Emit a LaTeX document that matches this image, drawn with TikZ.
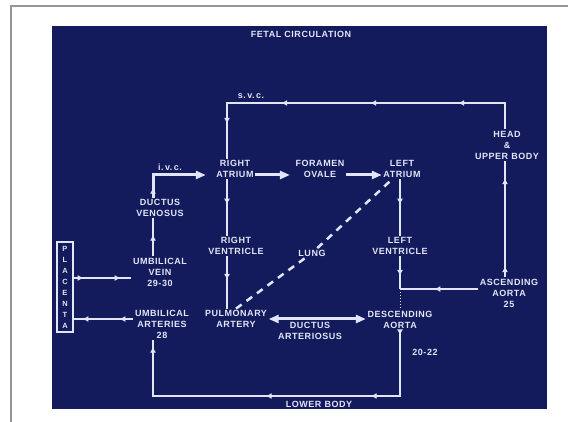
\documentclass[tikz,border=0pt]{standalone}
\usepackage{fontspec}
\newfontfamily\slidefont[LetterSpace=6]{Liberation Sans}
\usetikzlibrary{arrows.meta,decorations.markings}
\definecolor{slideblue}{RGB}{19,27,92}
\definecolor{chalk}{RGB}{226,229,246}
\definecolor{framegray}{RGB}{150,150,150}

\begin{document}
\begin{tikzpicture}[x=1pt, y=-1pt,
  lbl/.style={font=\slidefont\bfseries\fontsize{9}{11}\selectfont, text=chalk, align=center, inner sep=1.5pt},
  wire/.style={draw=chalk, line width=1.8pt},
  bigwire/.style={draw=chalk, line width=3pt, -{Triangle[length=10pt,width=8pt]}},
  flow/.style={postaction={decorate, decoration={markings, mark=at position #1 with {\arrow{Latex[length=6pt,width=6pt]}}}}}
]
\useasboundingbox (0,0) rectangle (568,422);

% Slide frame
\draw[framegray, line width=1.5pt] (568,6) -- (11,6) -- (11,422);
\fill[slideblue] (52,26) rectangle (547,409);

\node[lbl] (title) at (301,34) {FETAL CIRCULATION};

% Heart and vessels
\node[lbl] (svc) at (251,96) {s.\,v.\,c.};
\node[lbl] (ivc) at (170,167) {i.\,v.\,c.};
\node[lbl] (ra) at (235,169) {RIGHT\\ATRIUM};
\node[lbl] (fo) at (320,169) {FORAMEN\\OVALE};
\node[lbl] (la) at (402,169) {LEFT\\ATRIUM};
\node[lbl] (head) at (507,145) {HEAD\\\&\\UPPER BODY};
\node[lbl] (dv) at (160,208) {DUCTUS\\VENOSUS};
\node[lbl] (rv) at (236,246) {RIGHT\\VENTRICLE};
\node[lbl] (lung) at (312,253) {LUNG};
\node[lbl] (lv) at (400,246) {LEFT\\VENTRICLE};
\node[lbl] (uv) at (160,272) {UMBILICAL\\VEIN\\29-30};
\node[lbl] (aa) at (509,293) {ASCENDING\\AORTA\\25};
\node[lbl] (ua) at (162,324) {UMBILICAL\\ARTERIES\\28};
\node[lbl] (pa) at (236,319) {PULMONARY\\ARTERY};
\node[lbl] (da) at (310,331) {DUCTUS\\ARTERIOSUS};
\node[lbl] (dao) at (400,320) {DESCENDING\\AORTA};
\node[lbl] (num) at (425,352) {20-22};
\node[lbl] (lb) at (319,404) {LOWER BODY};
\node[lbl, font=\slidefont\bfseries\fontsize{7.5}{11}\selectfont, draw=chalk, line width=1.2pt,
  minimum width=16pt, minimum height=90pt, inner sep=1pt] (plac) at (65,287) {P\\L\\A\\C\\E\\N\\T\\A};

% Columns and rows of the wires
\coordinate (cL) at (153,0);
\coordinate (cRA) at (227,0);
\coordinate (cLA) at (400,0);
\coordinate (cH) at (505,0);
\coordinate (rTop) at (0,103);
\coordinate (rA) at (0,175);
\coordinate (rV) at (0,278);
\coordinate (rU) at (0,319);
\coordinate (rB) at (0,396);
\coordinate (jn) at (400,289);

% Connections
\draw[bigwire, flow=10pt] (dv.north -| cL) -- (cL |- rA) -- ([xshift=-9pt]ra.west |- rA);
\draw[bigwire, shorten >=4pt] (ra.east |- rA) -- (fo.west |- rA);
\draw[bigwire] (fo.east |- rA) -- (la.west |- rA);

\draw[wire, flow=73pt, flow=161pt, flow=250pt, flow=325pt]
  (head.north -| cH) -- (cH |- rTop) -- (cRA |- rTop) -- (ra.north -| cRA);
\draw[wire, flow=11pt, flow=99pt] (aa.north -| cH) -- (head.south -| cH);

\draw[wire, flow=0.45] (ra.south -| cRA) -- (rv.north -| cRA);
\draw[wire, flow=0.45] (rv.south -| cRA) -- (pa.north -| cRA);
\draw[wire, flow=0.45] (la.south -| cLA) -- (lv.north -| cLA);
\draw[wire, flow=0.6] (lv.south -| cLA) -- (jn);
\draw[wire, flow=0.56] (aa.west |- jn) -- (jn);
\draw[chalk, line width=1pt, dotted] (jn) -- (dao.north -| cLA);

\draw[wire, flow=0.57] (uv.north -| cL) -- (dv.south -| cL);
\draw[wire, flow=10pt, flow=47pt] (plac.east |- rV) -- (uv.west |- rV);
\draw[wire, flow=14pt, flow=51pt] (ua.west |- rU) -- (plac.east |- rU);

\draw[bigwire, {Triangle[length=10pt,width=8pt]}-{Triangle[length=10pt,width=8pt]}] (pa.east) -- (dao.west |- pa.east);
\draw[chalk, line width=2.5pt, dash pattern=on 7pt off 6pt] (pa.north) -- (lung) -- ([xshift=-10pt]la.south);

\draw[wire, flow=5pt, flow=95pt, flow=200pt, flow=362pt]
  (dao.south -| cLA) -- (cLA |- rB) -- (cL |- rB) -- (ua.south -| cL);

\end{tikzpicture}
\end{document}
